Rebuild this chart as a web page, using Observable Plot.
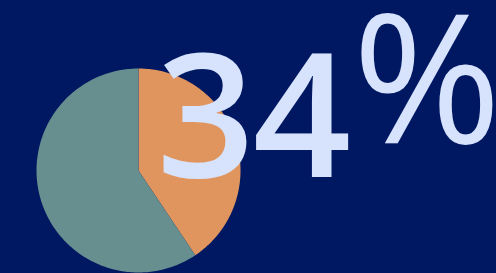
<!DOCTYPE html>
<html><head><meta charset="utf-8">
<script src="https://cdn.jsdelivr.net/npm/d3@7"></script>
<script src="https://cdn.jsdelivr.net/npm/@observablehq/plot@0.6"></script>
<style>
html,body{margin:0;padding:0;background:#001862;overflow:hidden;}
.digits text{letter-spacing:-2px;}
</style>
</head><body><div id="chart"></div>
<script>
const categories = ["Share", "Rest"];
const values = [40.6, 59.4];
const colors = ["#e0955e", "#678f8f"];
const bigNumber = ["34"];
const bigUnit = ["%"];

const arcs = d3.pie().sort(null).value(d => d)(values);
const slicePoints = arcs.flatMap((a, i) => {
  const n = Math.max(2, Math.ceil((a.endAngle - a.startAngle) / (Math.PI / 180)));
  const pts = [{cat: categories[i], x: 0, y: 0}];
  for (let k = 0; k <= n; k++) {
    const t = a.startAngle + (a.endAngle - a.startAngle) * k / n;
    pts.push({cat: categories[i], x: Math.sin(t), y: Math.cos(t)});
  }
  pts.push({cat: categories[i], x: 0, y: 0});
  return pts;
});

const textStyle = {fontFamily: "Open Sans", fill: "#d7e2fc", frameAnchor: "top-left", textAnchor: "start", lineAnchor: "bottom"};

const chart = Plot.plot({
  width: 496, height: 273,
  margin: 0,
  style: {background: "#001862", overflow: "hidden"},
  x: {domain: [-1, 1], range: [36, 240], axis: null},
  y: {domain: [-1, 1], range: [272, 68], axis: null},
  color: {domain: categories, range: colors},
  marks: [
    Plot.line(slicePoints, {x: "x", y: "y", z: "cat", fill: "cat", stroke: "none", curve: "linear"}),
    Plot.text(bigNumber, {...textStyle, className: "digits", fontWeight: 600, fontSize: 172, text: d => d, dx: 156, dy: 176}),
    Plot.text(bigUnit, {...textStyle, fontWeight: 400, fontSize: 180, text: d => d, dx: 352, dy: 142})
  ]
});
document.getElementById("chart").appendChild(chart);
</script>
</body></html>
